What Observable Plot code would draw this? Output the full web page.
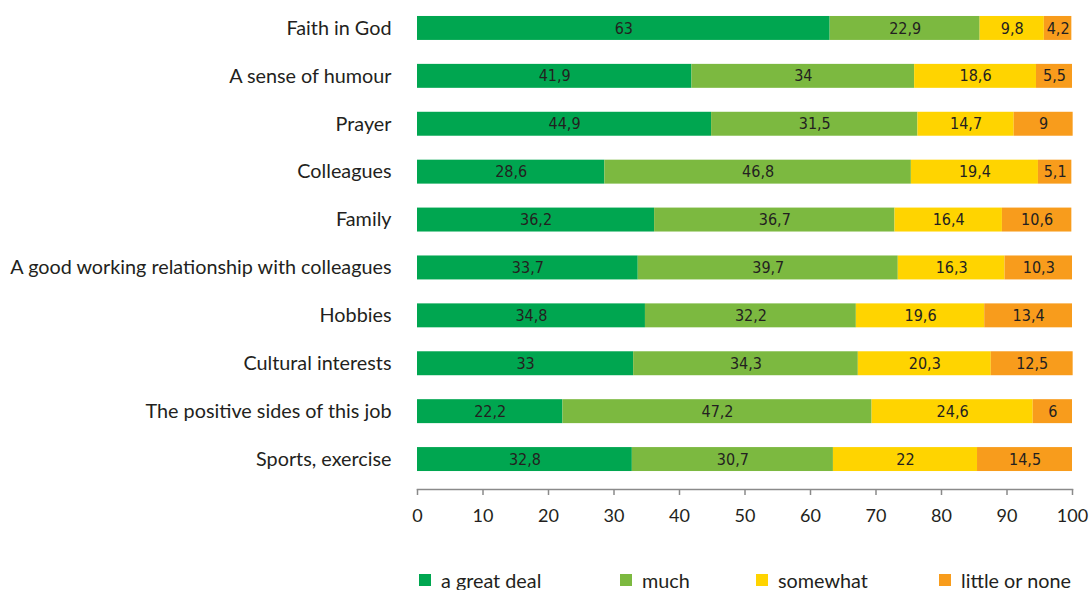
<!DOCTYPE html>
<html><head><meta charset="utf-8">
<script src="https://cdn.jsdelivr.net/npm/d3@7"></script>
<script src="https://cdn.jsdelivr.net/npm/@observablehq/plot@0.6"></script>
<style>
body{margin:0;background:#fff;font-family:Lato,"Open Sans",sans-serif;}
#legend{position:relative;height:40px;font-family:Lato,"Open Sans",sans-serif;font-size:19.8px;color:#231f20;}
#legend .item{position:absolute;top:17px;display:flex;align-items:center;line-height:26px;}
#legend .sw{width:12px;height:12px;margin-right:10px;}
</style></head>
<body><div id="chart"></div><div id="legend"></div>
<script>
const categories = ["Faith in God","A sense of humour","Prayer","Colleagues","Family","A good working relationship with colleagues","Hobbies","Cultural interests","The positive sides of this job","Sports, exercise"];
const series = ["a great deal","much","somewhat","little or none"];
const colors = ["#00a650","#7cb940","#ffd400","#f89c1c"];
const greatDeal = [63,41.9,44.9,28.6,36.2,33.7,34.8,33,22.2,32.8];
const much = [22.9,34,31.5,46.8,36.7,39.7,32.2,34.3,47.2,30.7];
const somewhat = [9.8,18.6,14.7,19.4,16.4,16.3,19.6,20.3,24.6,22];
const littleNone = [4.2,5.5,9,5.1,10.6,10.3,13.4,12.5,6,14.5];
const xTicks = [0,10,20,30,40,50,60,70,80,90,100];

const vals = [greatDeal, much, somewhat, littleNone];
const data = [];
categories.forEach((c,i)=>series.forEach((s,j)=>data.push({cat:c, series:s, value:vals[j][i]})));
const fmt = v => String(v).replace(".", ",");

const chart = Plot.plot({
  width:1091, height:550,
  marginLeft:417, marginRight:19, marginTop:4, marginBottom:61,
  style:{fontFamily:"Lato, 'Open Sans', sans-serif", color:"#231f20", background:"#fff"},
  x:{domain:[0,100], ticks:xTicks},
  y:{domain:categories, range:[4,483], padding:0.5, paddingOuter:0.25, round:false},
  color:{domain:series, range:colors},
  marks:[
    Plot.barX(data, Plot.stackX({x:"value", y:"cat", fill:"series", order:null})),
    Plot.text(data, Plot.stackX({x:"value", y:"cat", z:"series", order:null, text:d=>fmt(d.value), fill:"#231f20", fontSize:16, fontFamily:"'Liberation Sans Narrow','DejaVu Sans Condensed',sans-serif"})),
    Plot.axisY({tickSize:0, tickPadding:26, label:null, fontSize:19.8}),
    Plot.axisX({tickSize:6, tickPadding:14, label:null, fontSize:18, stroke:"#8a8a8a", strokeWidth:1.5, ticks:xTicks}),
    Plot.frame({anchor:"bottom", stroke:"#8a8a8a", strokeWidth:1.5})
  ]
});
document.getElementById("chart").appendChild(chart);
const lx = [419,620,756,939];
const lg = document.getElementById("legend");
series.forEach((s,i)=>{
  const d = document.createElement("div"); d.className="item"; d.style.left=lx[i]+"px";
  d.innerHTML = `<span class="sw" style="background:${colors[i]}"></span><span>${s}</span>`;
  lg.appendChild(d);
});
</script></body></html>
